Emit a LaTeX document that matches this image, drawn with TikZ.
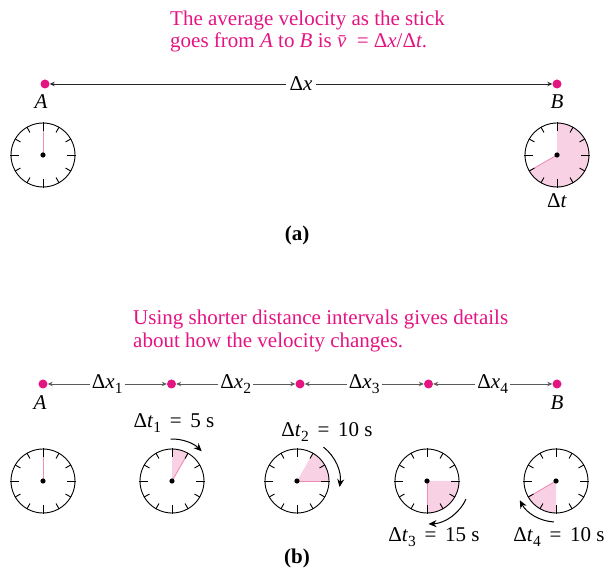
\documentclass[tikz,border=0pt]{standalone}
\usepackage{fontspec}
\setmainfont{Liberation Serif}
\usetikzlibrary{arrows.meta,positioning,calc,backgrounds}

\definecolor{hotpink}{RGB}{228,20,130}
\definecolor{sectorpink}{RGB}{248,210,228}
\definecolor{handpink}{RGB}{240,140,185}
\definecolor{linegray}{RGB}{90,90,90}

% lowered subscript in text
\newcommand\lowsub[1]{\raisebox{-0.45ex}{\fontsize{15.5}{15.5}\selectfont #1}}

\begin{document}
\begin{tikzpicture}[x=1pt,y=1pt,
    every node/.style={font=\fontsize{21}{22.5}\selectfont},
    note/.style  ={text=hotpink,align=left,anchor=west,inner sep=0pt},
    pt/.style    ={circle,fill=hotpink,minimum size=9pt,inner sep=0pt},
    clock/.style ={circle,draw=black,line width=0.9pt,minimum size=64pt,
                   inner sep=0pt},
    tick/.style  ={line width=0.9pt},
    sector/.style={fill=sectorpink},
    hand/.style  ={draw=handpink,line width=0.9pt},
    dist/.style  ={-{Stealth[length=5pt,width=4.5pt]},line width=0.7pt},
    turn/.style  ={-{Stealth[length=8pt,width=7pt]},line width=1pt},
  ]
  \useasboundingbox (0,0) rectangle (608,576);

  % (a) caption text
  \node[note] (capa) at (170,544.5)
    {The average velocity as the stick\\
     goes from \textit{A} to \textit{B} is \textit{\=v}\ = Δ\textit{x}/Δ\textit{t}.};

  % (a) end points and displacement
  \node[pt] (A) at (45,492) {};
  \node[pt] (B) at (557,492) {};
  \node (lA) at (41,474) {\textit{A}};
  \node (lB) at (557,474) {\textit{B}};
  \node (dx) at ($(A)!0.5!(B)$) {Δ\textit{x}};
  \draw[dist,black!85] (dx) -- (A);
  \draw[dist,black!85] (dx) -- (B);

  % (a) clocks
  \node[clock] (cA) at (43,421) {};
  \node[clock] (cB) at (557,421) {};
  \node (dt) at (557,375) {Δ\textit{t}};
  \node (capA) at (297,341) {\textbf{(a)}};

  % (b) caption text
  \node[note] (capb) at (133,245)
    {Using shorter distance intervals gives details\\
     about how the velocity changes.};

  % (b) end points and displacements
  \node[pt] (p0) at (43,192) {};
  \node[pt] (p1) at (171.5,192) {};
  \node[pt] (p2) at (300,192) {};
  \node[pt] (p3) at (428.5,192) {};
  \node[pt] (p4) at (557,192) {};
  \node (lA2) at (40,173) {\textit{A}};
  \node (lB2) at (557,173) {\textit{B}};
  \foreach \j/\i in {0/1,1/2,2/3,3/4}{
    \node[inner sep=2pt] (dx\i) at ($(p\j)!0.5!(p\i)$) {Δ\textit{x}\lowsub{\i}};
    \draw[dist,linegray] (dx\i) -- (p\j);
    \draw[dist,linegray] (dx\i) -- (p\i);
  }

  % (b) clocks
  \node[clock] (c1) at (43,95) {};
  \node[clock] (c2) at (172,95) {};
  \node[clock] (c3) at (297,95) {};
  \node[clock] (c4) at (427,95) {};
  \node[clock] (c5) at (556,95) {};

  \node (dt1) at (174,153) {Δ\textit{t}\lowsub{1}\,\ =\ \,5 s};
  \node (dt2) at (327,144) {Δ\textit{t}\lowsub{2}\,\ =\ \,10 s};
  \node (dt3) at (434,39) {Δ\textit{t}\lowsub{3}\,\ =\ \,15 s};
  \node (dt4) at (559,39) {Δ\textit{t}\lowsub{4}\,\ =\ \,10 s};
  \node (capB) at (297,18) {\textbf{(b)}};

  % elapsed time sectors and hands
  \begin{scope}[on background layer]
    \fill[sector] (cB.center) -- ++(90:32) arc[start angle=90,end angle=-150,radius=32] -- cycle;
    \fill[sector] (c2.center) -- ++(90:32) arc[start angle=90,end angle=60,radius=32] -- cycle;
    \fill[sector] (c3.center) -- ++(60:32) arc[start angle=60,end angle=0,radius=32] -- cycle;
    \fill[sector] (c4.center) -- ++(0:32) arc[start angle=0,end angle=-90,radius=32] -- cycle;
    \fill[sector] (c5.center) -- ++(-90:32) arc[start angle=-90,end angle=-150,radius=32] -- cycle;
    \draw[hand] (cA.center) -- ++(90:32);
    \draw[hand] (cB.center) -- ++(-150:32);
    \draw[hand] (c1.center) -- ++(90:32);
    \draw[hand] (c2.center) -- ++(60:32);
    \draw[hand] (c3.center) -- ++(0:32);
    \draw[hand] (c4.center) -- ++(-90:32);
    \draw[hand] (c5.center) -- ++(-150:32);
  \end{scope}

  % clock ticks and pivots
  \foreach \c in {cA,cB,c1,c2,c3,c4,c5}{
    \foreach \a in {30,60,120,150,210,240,300,330}
      \draw[tick] (\c.center) ++(\a:26) -- ++(\a:6);
    \foreach \a in {0,90,180,270}
      \draw[tick] (\c.center) ++(\a:24) -- ++(\a:9);
    \fill (\c.center) circle (2.6);
  }

  % turning arrows
  \draw[turn] ($(c2.center)+(92:42)$) arc[start angle=92,end angle=45,radius=42];
  \draw[turn] ($(c3.center)+(52:43)$) arc[start angle=52,end angle=-8,radius=43];
  \draw[turn] ($(c4.center)+(-25:43)$) arc[start angle=-25,end angle=-88,radius=43];
  \draw[turn] ($(c5.center)+(-93:41)$) arc[start angle=-93,end angle=-152,radius=41];
\end{tikzpicture}
\end{document}
